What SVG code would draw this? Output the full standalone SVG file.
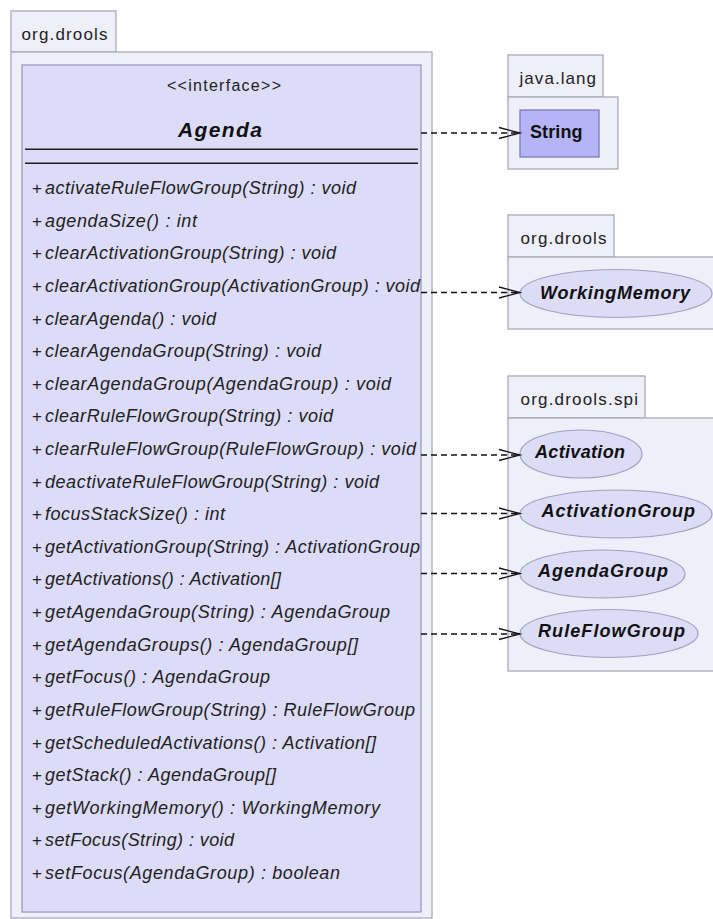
<svg xmlns="http://www.w3.org/2000/svg" width="713" height="919" viewBox="0 0 713 919">
  <style>
    .pkg { fill: #efeffa; stroke: #a9a9bb; stroke-width: 1.3; }
    .pkglabel { font-family: "Liberation Sans", Arial, sans-serif; font-size: 17px; fill: #222; }
    .cls { fill: #dcdcf8; stroke: #9a9ac0; stroke-width: 1.3; }
    .sep { stroke: #1e1e1e; stroke-width: 1.5; }
    .stereo { font-family: "Liberation Sans", Arial, sans-serif; font-size: 16px; fill: #222; }
    .title { font-family: "Liberation Sans", Arial, sans-serif; font-size: 21px; font-weight: bold; font-style: italic; fill: #111; }
    .vis { font-family: "Liberation Sans", Arial, sans-serif; font-size: 17px; fill: #222; }
    .m { font-family: "Liberation Sans", Arial, sans-serif; font-size: 18px; font-style: italic; fill: #222; }
    .ell { fill: #dcdcf6; stroke: #a0a0c0; stroke-width: 1.2; }
    .elabel { font-family: "Liberation Sans", Arial, sans-serif; font-size: 18px; font-weight: bold; font-style: italic; fill: #111; }
    .str { fill: #b4b4f6; stroke: #7c7cb8; stroke-width: 1.3; }
    .slabel { font-family: "Liberation Sans", Arial, sans-serif; font-size: 18px; font-weight: bold; fill: #111; }
    .dep { fill: none; stroke: #111; stroke-width: 1.3; stroke-dasharray: 6 4; }
    .head { fill: none; stroke: #111; stroke-width: 1.3; }
  </style>
  <rect x="0" y="0" width="713" height="919" fill="#ffffff"/>

  <!-- package org.drools (left) -->
  <g id="pkg-org-drools">
    <rect class="pkg" x="11" y="11" width="105" height="41"/>
    <rect class="pkg" x="11" y="52" width="421" height="866"/>
    <text class="pkglabel" x="21.5" y="40" textLength="86">org.drools</text>
  </g>

  <!-- interface Agenda -->
  <g id="agenda">
    <rect class="cls" x="22" y="65" width="399" height="847"/>
    <text class="stereo" x="224" y="91" text-anchor="middle" textLength="114">&lt;&lt;interface&gt;&gt;</text>
    <text class="title" x="220" y="136.5" text-anchor="middle" textLength="84">Agenda</text>
    <line class="sep" x1="25" y1="149.3" x2="418" y2="149.3"/>
    <line class="sep" x1="25" y1="163.3" x2="418" y2="163.3"/>
    <!-- visibility markers -->
    <g class="vis">
      <text x="32" y="194">+</text>
      <text x="32" y="226.6">+</text>
      <text x="32" y="259.2">+</text>
      <text x="32" y="291.9">+</text>
      <text x="32" y="324.5">+</text>
      <text x="32" y="357.1">+</text>
      <text x="32" y="389.7">+</text>
      <text x="32" y="422.3">+</text>
      <text x="32" y="455">+</text>
      <text x="32" y="487.6">+</text>
      <text x="32" y="520.2">+</text>
      <text x="32" y="552.8">+</text>
      <text x="32" y="585.4">+</text>
      <text x="32" y="618.1">+</text>
      <text x="32" y="650.7">+</text>
      <text x="32" y="683.3">+</text>
      <text x="32" y="715.9">+</text>
      <text x="32" y="748.5">+</text>
      <text x="32" y="781.2">+</text>
      <text x="32" y="813.8">+</text>
      <text x="32" y="846.4">+</text>
      <text x="32" y="879">+</text>
    </g>
    <!-- operations -->
    <g class="m">
      <text x="45" y="194" textLength="311">activateRuleFlowGroup(String) : void</text>
      <text x="45" y="226.6" textLength="152">agendaSize() : int</text>
      <text x="45" y="259.2" textLength="291">clearActivationGroup(String) : void</text>
      <text x="45" y="291.9" textLength="375">clearActivationGroup(ActivationGroup) : void</text>
      <text x="45" y="324.5" textLength="171">clearAgenda() : void</text>
      <text x="45" y="357.1" textLength="276">clearAgendaGroup(String) : void</text>
      <text x="45" y="389.7" textLength="346">clearAgendaGroup(AgendaGroup) : void</text>
      <text x="45" y="422.3" textLength="288">clearRuleFlowGroup(String) : void</text>
      <text x="45" y="455" textLength="371">clearRuleFlowGroup(RuleFlowGroup) : void</text>
      <text x="45" y="487.6" textLength="334">deactivateRuleFlowGroup(String) : void</text>
      <text x="45" y="520.2" textLength="180">focusStackSize() : int</text>
      <text x="45" y="552.8" textLength="375">getActivationGroup(String) : ActivationGroup</text>
      <text x="45" y="585.4" textLength="236">getActivations() : Activation[]</text>
      <text x="45" y="618.1" textLength="345">getAgendaGroup(String) : AgendaGroup</text>
      <text x="45" y="650.7" textLength="313">getAgendaGroups() : AgendaGroup[]</text>
      <text x="45" y="683.3" textLength="225">getFocus() : AgendaGroup</text>
      <text x="45" y="715.9" textLength="370">getRuleFlowGroup(String) : RuleFlowGroup</text>
      <text x="45" y="748.5" textLength="331">getScheduledActivations() : Activation[]</text>
      <text x="45" y="781.2" textLength="231">getStack() : AgendaGroup[]</text>
      <text x="45" y="813.8" textLength="335">getWorkingMemory() : WorkingMemory</text>
      <text x="45" y="846.4" textLength="189">setFocus(String) : void</text>
      <text x="45" y="879" textLength="295">setFocus(AgendaGroup) : boolean</text>
    </g>
  </g>

  <!-- package java.lang -->
  <g id="pkg-java-lang">
    <rect class="pkg" x="508" y="55" width="95" height="42"/>
    <rect class="pkg" x="508" y="97" width="110" height="72"/>
    <text class="pkglabel" x="519.5" y="83.5" textLength="76.5">java.lang</text>
  </g>
  <g id="string">
    <rect class="str" x="520" y="110" width="79" height="47"/>
    <text class="slabel" x="530" y="137.5" textLength="52.5">String</text>
  </g>

  <!-- package org.drools (right) -->
  <g id="pkg-org-drools-2">
    <rect class="pkg" x="508" y="215" width="106" height="42"/>
    <rect class="pkg" x="508" y="257" width="220" height="72"/>
    <text class="pkglabel" x="520.5" y="243.5" textLength="86">org.drools</text>
  </g>
  <g id="working-memory">
    <ellipse class="ell" cx="616" cy="293.5" rx="96" ry="24"/>
    <text class="elabel" x="540" y="298.5" textLength="150">WorkingMemory</text>
  </g>

  <!-- package org.drools.spi -->
  <g id="pkg-org-drools-spi">
    <rect class="pkg" x="508" y="376" width="137" height="42"/>
    <rect class="pkg" x="508" y="418" width="220" height="253"/>
    <text class="pkglabel" x="520.5" y="405" textLength="117.5">org.drools.spi</text>
  </g>
  <g id="activation">
    <ellipse class="ell" cx="581" cy="454" rx="61" ry="24"/>
    <text class="elabel" x="535" y="457.5" textLength="90">Activation</text>
  </g>
  <g id="activation-group">
    <ellipse class="ell" cx="616" cy="514" rx="96" ry="24"/>
    <text class="elabel" x="541.5" y="517" textLength="153.5">ActivationGroup</text>
  </g>
  <g id="agenda-group">
    <ellipse class="ell" cx="602.5" cy="574" rx="82.5" ry="24"/>
    <text class="elabel" x="538" y="577" textLength="130">AgendaGroup</text>
  </g>
  <g id="rule-flow-group">
    <ellipse class="ell" cx="609" cy="633.5" rx="89" ry="24"/>
    <text class="elabel" x="538" y="637" textLength="147">RuleFlowGroup</text>
  </g>

  <!-- dependency connectors -->
  <g id="connectors">
    <path class="dep" d="M421,133 H519"/>
    <path class="head" d="M499,127.5 L520,133 L499,138.5"/>
    <path class="dep" d="M421,292.5 H519"/>
    <path class="head" d="M499,287 L520,292.5 L499,298"/>
    <path class="dep" d="M421,455 H519"/>
    <path class="head" d="M499,449.5 L520,455 L499,460.5"/>
    <path class="dep" d="M421,513.5 H519"/>
    <path class="head" d="M499,508 L520,513.5 L499,519"/>
    <path class="dep" d="M421,573.5 H519"/>
    <path class="head" d="M499,568 L520,573.5 L499,579"/>
    <path class="dep" d="M421,634 H519"/>
    <path class="head" d="M499,628.5 L520,634 L499,639.5"/>
  </g>
</svg>
